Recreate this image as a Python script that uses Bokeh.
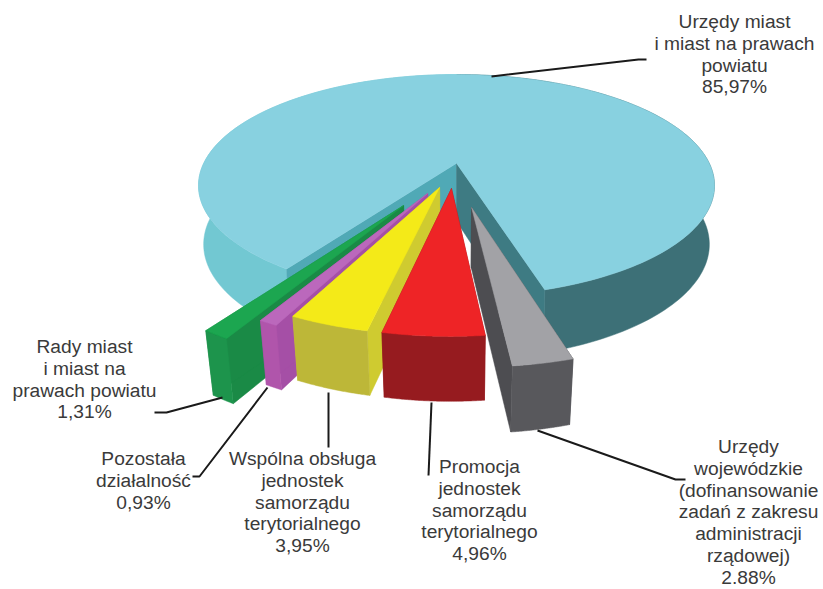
import math
from bokeh.plotting import figure
from bokeh.embed import file_html
from bokeh.resources import INLINE
from bokeh.models import Range1d
from bokeh.core.properties import value

slice_names = ["Urzędy wojewódzkie", "Promocja", "Wspólna obsługa", "Pozostała działalność", "Rady miast", "Urzędy miast"]
shares = [2.88, 4.96, 3.95, 0.93, 1.31, 85.97]
explode_x = [0.055, -0.019, -0.064, -0.108, -0.194, 0.0]
explode_y = [0.383, 0.226, 0.217, 0.268, 0.367, 0.0]
top_colors = ["#A2A2A6", "#EE2426", "#F4EA18", "#BB68BC", "#1CA650", "#88D1E0"]
wall_colors = ["#58585C", "#961B1F", "#BDB738", "#B055AB", "#1D944C", "#3D7077"]
side_colors = ["#4D4D51", "#961B1F", "#CFCB30", "#A54FA6", "#1A8A46", "#3E7B83"]
label_lines = [
    (["Urzędy", "wojewódzkie", "(dofinansowanie", "zadań z zakresu", "administracji", "rządowej)", "2.88%"], 748, 446),
    (["Promocja", "jednostek", "samorządu", "terytorialnego", "4,96%"], 479, 466),
    (["Wspólna obsługa", "jednostek", "samorządu", "terytorialnego", "3,95%"], 302, 458),
    (["Pozostała", "działalność", "0,93%"], 143, 458),
    (["Rady miast", "i miast na", "prawach powiatu", "1,31%"], 84, 346),
    (["Urzędy miast", "i miast na prawach", "powiatu", "85,97%"], 734, 21),
]
leaders = [
    ([537, 675, 685], [430, 479, 479]),
    ([431, 428], [402, 475]),
    ([328, 328], [392, 447]),
    ([192, 199, 267], [476, 476, 387]),
    ([154, 166, 222], [412, 412, 397]),
    ([491, 638, 646], [76, 59, 59]),
]

CX, CY, RX, RY, A = 456.0, 185.0, 258.0, 111.0, 0.2
XK_MAIN, XK_SLICE, DEPTH, DK = 0.98, 0.97, 58.0, 0.04


def project(X, Y):
    d = 1 - A * Y
    return CX + RX * X * math.sqrt(1 - A * A) / d, CY + RY * (Y - A) / d


def lower(pt, xk=XK_SLICE):
    x, y = pt
    return CX + (x - CX) * xk, y + DEPTH + (y - 163) * DK


def arc(a0, a1, ox, oy, n=60):
    out = []
    for i in range(n + 1):
        t = math.radians(a0 + (a1 - a0) * i / n)
        out.append(project(math.sin(t) + ox, math.cos(t) + oy))
    return out


p = figure(width=823, height=589, x_range=Range1d(0, 823), y_range=Range1d(589, 0),
           output_backend="svg", toolbar_location=None, min_border=0,
           outline_line_color=None, background_fill_color="white")
p.axis.visible = False
p.grid.visible = False


def poly(points, color):
    p.patch([q[0] for q in points], [q[1] for q in points], fill_color=color,
            line_color=color, line_width=0.5)


degs = [s * 3.6 for s in shares]
START = 16.4  # degrees right of straight-down, where the first slice begins
edges = [START]
for d in degs:
    edges.append(edges[-1] - d)

# main slice: runs from its left end round the back to its right end
a0, a1 = edges[5], edges[6]
apex = project(0, 0)
top = arc(a0, a1, 0, 0, 240)
left_half = arc(a0, -180, 0, 0, 120)
right_half = arc(-180, a1, 0, 0, 120)
poly(right_half + [lower(q, XK_MAIN) for q in reversed(right_half)], wall_colors[5])
poly(left_half + [lower(q, XK_MAIN) for q in reversed(left_half)], "#72C8D2")
poly([apex, top[0], lower(top[0], XK_MAIN), lower(apex, XK_MAIN)], "#50A9B6")
poly([apex, top[-1], lower(top[-1], XK_MAIN), lower(apex, XK_MAIN)], side_colors[5])
poly([apex] + top, top_colors[5])

# exploded slices, drawn left to right so that they overlap properly
for i in [4, 3, 2, 1, 0]:
    a0, a1 = edges[i], edges[i + 1]
    ox, oy = explode_x[i], explode_y[i]
    ap = project(ox, oy)
    ar = arc(a0, a1, ox, oy)
    lo = [lower(q) for q in ar]
    lap = lower(ap)
    poly([ap, ar[0], lo[0], lap], side_colors[i])
    poly([ap, ar[-1], lo[-1], lap], side_colors[i])
    poly(ar + lo[::-1], wall_colors[i])
    poly([ap] + ar, top_colors[i])

for xs, ys in leaders:
    p.line(xs, ys, line_color="#1a1a1a", line_width=2)

for lines, x, y in label_lines:
    p.text([x] * len(lines), [y + k * 21.8 for k in range(len(lines))], text=lines,
           text_font=value("Liberation Sans"), text_font_size="19.2px", text_color="#3a3a3a",
           text_align="center", text_baseline="middle")

open("out.html", "w").write(file_html(p, INLINE))
